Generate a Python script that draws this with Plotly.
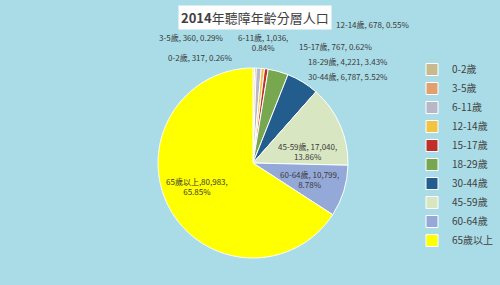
import plotly.graph_objects as go

categories = ["0-2歲", "3-5歲", "6-11歲", "12-14歲", "15-17歲", "18-29歲", "30-44歲", "45-59歲", "60-64歲", "65歲以上"]
values = [317, 360, 1036, 678, 767, 4221, 6787, 17040, 10799, 80983]
percents = ["0.26%", "0.29%", "0.84%", "0.55%", "0.62%", "3.43%", "5.52%", "13.86%", "8.78%", "65.85%"]
slice_colors = ["#c9b98f", "#e3a06e", "#b7b7c9", "#f2c443", "#c0302a", "#77a84f", "#235d8e", "#d8e6c2", "#95a9d9", "#ffff00"]
title_year = "2014"
title_rest = "年聽障年齡分層人口"

W, H = 500, 285
FONT = "Noto Sans CJK TC, Liberation Sans, sans-serif"

fig = go.Figure()
fig.add_trace(go.Pie(
    labels=categories, values=values, sort=False, direction="clockwise", rotation=0,
    marker=dict(colors=slice_colors, line=dict(color="white", width=1)),
    textinfo="none", hoverinfo="label+value+percent",
    domain=dict(x=[(253 - 95) / W, (253 + 95) / W], y=[1 - 258 / H, 1 - 68 / H]),
))

def fmt(i):
    return f"{categories[i]}, {values[i]:,}, {percents[i]}"

# label placements (pixel centres), text built from data
label_specs = [
    (0, [fmt(0)], 200, 58),
    (1, [fmt(1)], 191, 38),
    (2, [f"{categories[2]}, {values[2]:,},", percents[2]], 263, 42),
    (3, [fmt(3)], 372, 24),
    (4, [fmt(4)], 335, 46),
    (5, [fmt(5)], 348, 61),
    (6, [fmt(6)], 348, 77),
    (7, [f"{categories[7]}, {values[7]:,},", percents[7]], 307, 151),
    (8, [f"{categories[8]}, {values[8]:,},", percents[8]], 309, 179),
    (9, [f"{categories[9]},{values[9]:,},", percents[9]], 197, 186),
]
for i, lines, px, py in label_specs:
    fig.add_annotation(
        x=px / W, y=1 - py / H, xref="paper", yref="paper", showarrow=False,
        xanchor="center", yanchor="middle",
        text="<br>".join(lines), align="center",
        font=dict(family=FONT, size=8, color="#3a3a3a"),
    )

fig.add_annotation(
    x=255 / W, y=1 - 18 / H, xref="paper", yref="paper", showarrow=False,
    xanchor="center", yanchor="middle",
    text=f"<b>{title_year}</b>{title_rest}", bgcolor="white", borderpad=2,
    font=dict(family=FONT, size=13, color="#404040"),
)

fig.update_layout(
    width=W, height=H, margin=dict(l=0, r=0, t=0, b=0, autoexpand=False),
    paper_bgcolor="#a9dce6", plot_bgcolor="#a9dce6",
    showlegend=True,
    legend=dict(x=412 / W, y=1 - 55 / H, xanchor="left", yanchor="top",
                bgcolor="rgba(0,0,0,0)", font=dict(family=FONT, size=10, color="#404040"),
                itemwidth=30, tracegroupgap=0),
)

fig.write_html("out.html")
